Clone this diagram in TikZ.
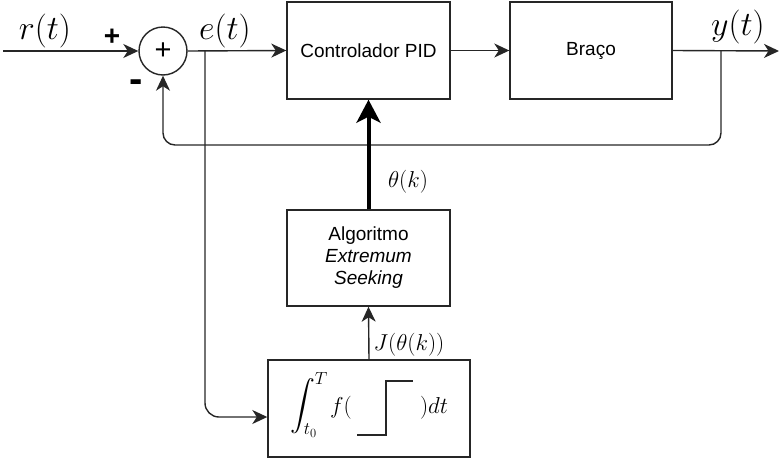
\RequirePackage{fix-cm}
\documentclass[tikz,border=0pt]{standalone}
\usepackage{exscale}
\usepackage{fontspec}
\setmainfont{Liberation Sans}
\usetikzlibrary{arrows.meta,calc}

\tikzset{
  wire/.style={line width=1.4pt, draw=black!85},
  arr/.style={wire, -{Stealth[length=15pt,width=14pt,inset=4.5pt]}},
  bigarr/.style={line width=4pt, draw=black, -{Stealth[length=23pt,width=24pt,inset=6pt]}},
  blk/.style={draw=black!85, line width=1.4pt, rectangle, inner sep=0pt,
              font=\fontsize{19}{22}\selectfont, align=center},
  sig/.style={inner sep=0pt, font=\fontsize{34}{38}\selectfont},
  mlab/.style={inner sep=0pt, font=\fontsize{23}{27}\selectfont},
  sgn/.style={inner sep=0pt, font=\bfseries\fontsize{28}{30}\selectfont},
}

\begin{document}
\begin{tikzpicture}[x=1pt, y=-1pt]
  \useasboundingbox (0,0) rectangle (779,461);

  % blocks
  \node[draw=black!85, line width=1.4pt, circle, minimum size=48pt, inner sep=0pt,
        font=\fontsize{29}{30}\selectfont] (sum) at (163,51) {+};
  \node[blk, minimum width=163pt, minimum height=97pt] (pid) at (368.5,50.5) {Controlador PID};
  \node[blk, minimum width=162pt, minimum height=97pt] (braco) at (591,50.5) {Braço};
  \node[blk, minimum width=163pt, minimum height=96pt] (alg) at (368.5,258)
       {Algoritmo\\\textit{Extremum}\\\textit{Seeking}};
  \node[blk, minimum width=202pt, minimum height=97pt] (integ) at (369,408.5) {};

  % contents of the cost integral
  \node[inner sep=0pt, font=\fontsize{25}{30}\selectfont] (intsym) at (309,405)
       {$\displaystyle\int_{t_0}^{T}$};
  \node[mlab] (fopen) at (341,408) {$f($};
  \node[mlab] (fclose) at (434,408) {$)dt$};
  \coordinate (s1) at (357,435);
  \coordinate (s2) at (386,435);
  \coordinate (s3) at (386,381);
  \coordinate (s4) at (413,381);
  \draw[line width=1.8pt, draw=black!85] (s1) -- (s2) -- (s3) -- (s4);

  % signal points
  \coordinate (rin) at (3,51);
  \coordinate (eb) at (205,51);
  \coordinate (ein) at (integ.west |- 0,417);
  \coordinate (yb) at (721,51);
  \coordinate (yout) at (779,51);
  \coordinate (fbcorner) at (721,145);

  % connections
  \draw[arr] (rin) -- (sum.west);
  \draw[arr] (sum.east) -- (pid.west);
  \draw[arr] (pid.east) -- (braco.west);
  \draw[arr] (braco.east) -- (yout);
  \draw[arr, rounded corners=12pt] (yb) -- (fbcorner) -- (sum.south |- fbcorner) -- (sum.south);
  \draw[arr, rounded corners=14pt] (eb) |- (ein);
  \draw[bigarr] (alg.north) -- (pid.south);
  \draw[arr] (integ.north) -- (alg.south);

  % labels
  \node[sig] (lr) at (45,31) {$r(t)$};
  \node[sig] (le) at (225,31) {$e(t)$};
  \node[sig] (ly) at (738,27) {$y(t)$};
  \node[sgn] (lplus) at (112,37) {+};
  \node[inner sep=0pt, font=\bfseries\fontsize{40}{40}\selectfont] (lminus) at (136,86) {-};
  \node[mlab] (ltheta) at (408,182) {$\theta(k)$};
  \node[mlab] (lJ) at (409,345) {$J(\theta(k))$};
\end{tikzpicture}
\end{document}
